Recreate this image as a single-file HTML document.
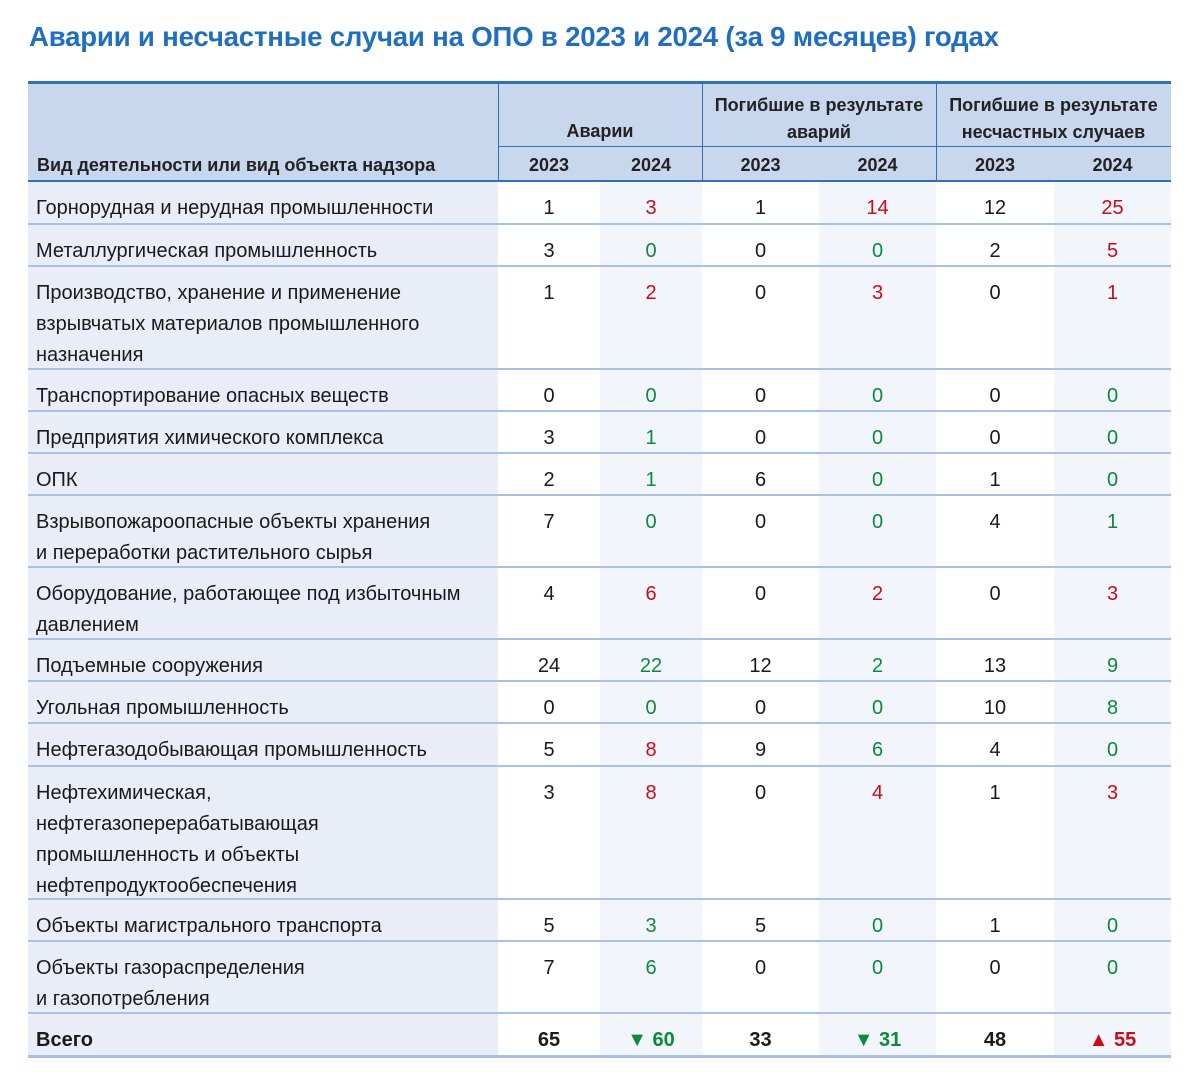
<!DOCTYPE html>
<html><head><meta charset="utf-8">
<style>
body{margin:0;background:#fff;width:1200px;height:1084px;overflow:hidden;font-family:"Liberation Sans","Noto Sans CJK SC",sans-serif;position:relative;}
h1{position:absolute;left:29px;top:21px;margin:0;font-size:27.6px;font-weight:bold;color:#1f6ec0;letter-spacing:-0.2px;}
.hd{position:absolute;background:#c8d6ee;font-weight:bold;font-size:18px;color:#222;line-height:27px;text-align:center;box-sizing:border-box;}
.row{position:absolute;left:28px;width:1143px;box-sizing:border-box;border-bottom:2px solid #a9c1e6;}
.c{position:absolute;top:0;bottom:0;font-size:20px;color:#1a1a1a;line-height:31px;padding-top:11px;text-align:center;box-sizing:border-box;}
.n{text-align:left;padding-left:8px;background:#e8edf8;}
.a{background:#f2f5fb;}
.r{color:#cc0b16;}.g{color:#0b8a39;}
.t .c{font-weight:bold;}
</style></head><body>
<h1>Аварии и несчастные случаи на ОПО в 2023 и 2024 (за 9 месяцев) годах</h1>
<div style="position:absolute;left:28px;top:81px;width:1143px;height:101px;background:#c8d6ee;border-top:3px solid #2e74b5;border-bottom:2px solid #2e74b5;box-sizing:border-box;">
 <div class="hd" style="left:9px;top:68px;text-align:left">Вид деятельности или вид объекта надзора</div>
 <div class="hd" style="left:470px;width:204px;top:34px">Аварии</div>
 <div class="hd" style="left:674px;width:234px;top:8px">Погибшие в результате<br>аварий</div>
 <div class="hd" style="left:908px;width:235px;top:8px">Погибшие в результате<br>несчастных случаев</div>
 <div class="hd" style="left:470px;width:102px;top:68px">2023</div>
 <div class="hd" style="left:572px;width:102px;top:68px">2024</div>
 <div class="hd" style="left:674px;width:117px;top:68px">2023</div>
 <div class="hd" style="left:791px;width:117px;top:68px">2024</div>
 <div class="hd" style="left:908px;width:118px;top:68px">2023</div>
 <div class="hd" style="left:1026px;width:117px;top:68px">2024</div>
 <div style="position:absolute;left:470px;width:673px;top:62px;border-top:1px solid #2e74b5"></div>
 <div style="position:absolute;left:470px;top:0;bottom:0;border-left:1px solid #2e74b5"></div>
 <div style="position:absolute;left:674px;top:0;bottom:0;border-left:1px solid #2e74b5"></div>
 <div style="position:absolute;left:908px;top:0;bottom:0;border-left:1px solid #2e74b5"></div>
</div>
<div id="tb"></div>
<script>
const names=["Горнорудная и нерудная промышленности","Металлургическая промышленность","Производство, хранение и применение<br>взрывчатых материалов промышленного<br>назначения","Транспортирование опасных веществ","Предприятия химического комплекса","ОПК","Взрывопожароопасные объекты хранения<br>и переработки растительного сырья","Оборудование, работающее под избыточным<br>давлением","Подъемные сооружения","Угольная промышленность","Нефтегазодобывающая промышленность","Нефтехимическая,<br>нефтегазоперерабатывающая<br>промышленность и объекты<br>нефтепродуктообеспечения","Объекты магистрального транспорта","Объекты газораспределения<br>и газопотребления"];
const acc2023=[1,3,1,0,3,2,7,4,24,0,5,3,5,7];
const acc2024=[3,0,2,0,1,1,0,6,22,0,8,8,3,6];
const dA2023=[1,0,0,0,0,6,0,0,12,0,9,0,5,0];
const dA2024=[14,0,3,0,0,0,0,2,2,0,6,4,0,0];
const dI2023=[12,2,0,0,0,1,4,0,13,10,4,1,1,0];
const dI2024=[25,5,1,0,0,0,1,3,9,8,0,3,0,0];
const totals=[65,60,33,31,48,55];
const rowH=[43,42,103,42,42,42,72,72,42,42,43,133,42,72];
const cols=[[0,470],[470,102],[572,102],[674,117],[791,117],[908,118],[1026,117]];
const tb=document.getElementById('tb');
let y=182;
function mkRow(h){const r=document.createElement('div');r.className='row';r.style.top=y+'px';r.style.height=h+'px';tb.appendChild(r);y+=h;return r;}
function cell(r,k,html,cls){const d=document.createElement('div');d.className='c '+cls;d.style.left=cols[k][0]+'px';d.style.width=cols[k][1]+'px';d.innerHTML=html;r.appendChild(d);}
function cmp(a,b){return b>a?'a r':'a g';}
names.forEach((n,i)=>{
 const r=mkRow(rowH[i]);
 
 
 cell(r,0,n,'n');
 cell(r,1,acc2023[i],'');cell(r,2,acc2024[i],cmp(acc2023[i],acc2024[i]));
 cell(r,3,dA2023[i],'');cell(r,4,dA2024[i],cmp(dA2023[i],dA2024[i]));
 cell(r,5,dI2023[i],'');cell(r,6,dI2024[i],cmp(dI2023[i],dI2024[i]));
});
const r=mkRow(44);r.classList.add('t');r.style.borderBottom='3px solid #a9c1e6';


cell(r,0,'Всего','n');
for(let k=0;k<6;k+=2){
 cell(r,k+1,totals[k],'');
 const up=totals[k+1]>totals[k];
 cell(r,k+2,(up?'▲':'▼')+' '+totals[k+1],up?'a r':'a g');
}
</script>
</body></html>
